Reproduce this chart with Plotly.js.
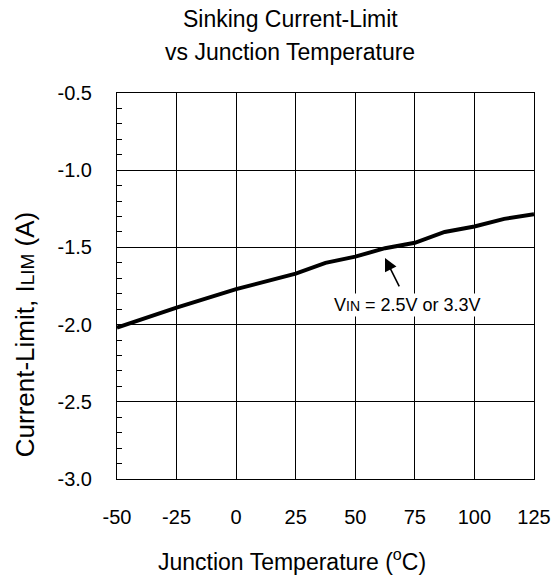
<!DOCTYPE html>
<html><head><meta charset="utf-8">
<script src="https://cdn.plot.ly/plotly-3.0.1.min.js"></script>
<style>body{margin:0;background:#fff}#c{width:558px;height:580px}</style>
</head><body><div id="c"></div>
<script>
const temperature = [-50, -25, 0, 25, 37.5, 50, 62.5, 75, 87.5, 100, 112.5, 125];
const currentLimit = [-2.02, -1.89, -1.77, -1.67, -1.60, -1.56, -1.505, -1.47, -1.40, -1.365, -1.315, -1.285];
const xTicks = [-50, -25, 0, 25, 50, 75, 100, 125];
const xTickText = ['-50', '-25', '0', '25', '50', '75', '100', '125'];
const yTicks = [-3.0, -2.5, -2.0, -1.5, -1.0, -0.5];
const yTickText = ['-3.0', '-2.5', '-2.0', '-1.5', '-1.0', '-0.5'];

const font = {family: 'Liberation Sans, Arial, sans-serif', color: '#000'};
const f = s => Object.assign({size: s}, font);
const trace = {
  x: temperature, y: currentLimit, mode: 'lines', type: 'scatter',
  line: {color: '#000', width: 4}, hoverinfo: 'skip'
};
const layout = {
  width: 558, height: 580,
  margin: {l: 117, r: 24, t: 93, b: 101},
  paper_bgcolor: '#fff', plot_bgcolor: '#fff',
  showlegend: false,
  font: f(20),
  xaxis: {
    range: [-50, 125], tickvals: xTicks, ticktext: xTickText, ticks: 'inside', ticklen: 5, tickcolor: '#000',
    showgrid: true, gridcolor: '#000', gridwidth: 1, zeroline: false,
    showline: true, linecolor: '#000', linewidth: 1, mirror: true,
    ticklabelstandoff: 20, tickfont: f(20)
  },
  yaxis: {
    range: [-3.0, -0.5], tickvals: yTicks, ticktext: yTickText, ticks: 'inside', ticklen: 6, tickcolor: '#000',
    showgrid: true, gridcolor: '#000', gridwidth: 1, zeroline: false,
    showline: true, linecolor: '#000', linewidth: 1, mirror: true,
    ticklabelstandoff: 20, tickfont: f(20),
    minor: {dtick: 0.1, ticks: 'inside', ticklen: 5, tickcolor: '#000', showgrid: false}
  },
  annotations: [
    {xref: 'paper', yref: 'paper', x: 0.415, y: 1, yshift: 74, xanchor: 'center', yanchor: 'middle',
     text: 'Sinking Current-Limit', showarrow: false, font: f(23)},
    {xref: 'paper', yref: 'paper', x: 0.415, y: 1, yshift: 41, xanchor: 'center', yanchor: 'middle',
     text: 'vs Junction Temperature', showarrow: false, font: f(23)},
    {xref: 'paper', yref: 'paper', x: 0.42, y: 0, yshift: -81, xanchor: 'center', yanchor: 'middle',
     text: 'Junction Temperature (<sup>o</sup>C)', showarrow: false, font: f(23)},
    {xref: 'paper', yref: 'paper', x: -0.2206, y: 0.375, xanchor: 'center', yanchor: 'middle', textangle: -90,
     text: 'Current-Limit, I<span style="font-size:19px">LIM</span> (A)', showarrow: false, font: f(26)},
    {x: 62.46, y: -1.568, ax: 68.76, ay: -1.762, axref: 'x', ayref: 'y', text: '',
     showarrow: true, arrowhead: 2, arrowsize: 1.6, arrowwidth: 1.6, arrowcolor: '#000', standoff: 0, startstandoff: 0},
    {x: 72.1, y: -1.872, text: 'V<span style="font-size:14px">IN</span> = 2.5V or 3.3V', showarrow: false,
     xanchor: 'center', yanchor: 'middle', bgcolor: '#fff', font: f(18), borderpad: 1}
  ]
};
Plotly.newPlot('c', [trace], layout, {displayModeBar: false, staticPlot: true});
</script></body></html>
